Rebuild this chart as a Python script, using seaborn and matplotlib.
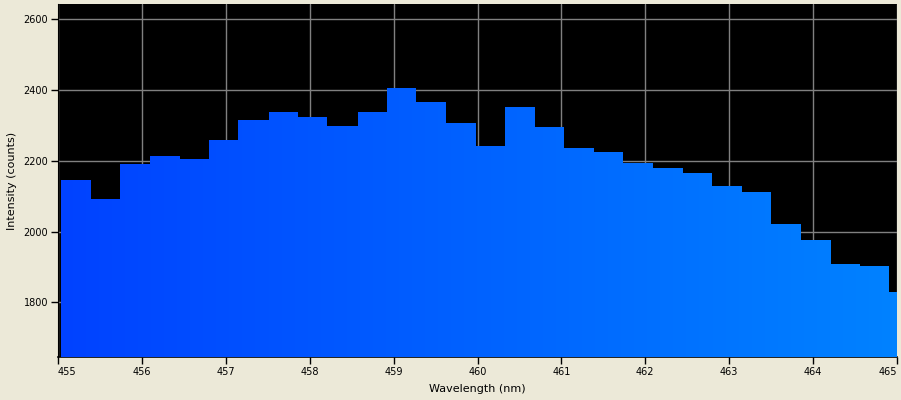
import numpy as np
import matplotlib
matplotlib.use("Agg")
import matplotlib.pyplot as plt
from matplotlib.colors import LinearSegmentedColormap
from matplotlib.patches import PathPatch
import seaborn as sns

# Bin left edges (nm) and intensities (counts)
wavelength = [455.04, 455.39, 455.74, 456.10, 456.45, 456.80, 457.15, 457.51,
              457.86, 458.21, 458.57, 458.92, 459.27, 459.62, 459.98, 460.33,
              460.68, 461.03, 461.39, 461.74, 462.09, 462.45, 462.80, 463.15,
              463.50, 463.86, 464.21, 464.56, 464.91]
last_edge = 465.27
intensity = [2146, 2092, 2191, 2214, 2205, 2259, 2316, 2339,
             2324, 2299, 2339, 2406, 2367, 2307, 2242, 2353,
             2296, 2236, 2225, 2194, 2180, 2166, 2129, 2112,
             2021, 1976, 1908, 1902, 1829]
x_ticks = [455, 456, 457, 458, 459, 460, 461, 462, 463, 464, 465]
y_ticks = [1800, 2000, 2200, 2400, 2600]

BG = "#ECE9D8"
sns.set_style("dark")
plt.rcParams["font.family"] = ["DejaVu Sans"]

fig = plt.figure(figsize=(9.01, 4.0), dpi=100, facecolor=BG)
ax = fig.add_axes([58 / 901, 43 / 400, 839 / 901, 353 / 400])
ax.set_facecolor("black")

bins = wavelength + [last_edge]
sns.histplot(x=wavelength, weights=intensity, bins=bins, element="step",
             fill=True, color="#0050ff", alpha=1, linewidth=0, ax=ax, zorder=2)

ax.set_xlim(455, 465)
ax.set_ylim(1646, 2643)

# gradient fill clipped to the step polygon
poly = ax.collections[0]
path = poly.get_paths()[0]
cmap = LinearSegmentedColormap.from_list("blu", ["#0042ff", "#0082ff"])
grad = np.linspace(0, 1, 256).reshape(1, -1)
im = ax.imshow(grad, cmap=cmap, aspect="auto", extent=(455, 465, 1646, 2643),
               origin="lower", zorder=3, interpolation="bilinear")
clip = PathPatch(path, transform=ax.transData, facecolor="none", edgecolor="none")
ax.add_patch(clip)
im.set_clip_path(clip)
ax.set_xlim(455, 465)
ax.set_ylim(1646, 2643)

ax.set_xticks(x_ticks)
ax.set_yticks(y_ticks)
ax.set_xticklabels([str(t) for t in x_ticks])
ax.set_yticklabels([str(t) for t in y_ticks])
ax.grid(True, color="#808080", linewidth=1, zorder=1)
ax.set_axisbelow(True)
ax.tick_params(axis="both", which="both", direction="out", length=5, width=1,
               color="black", labelsize=7, labelcolor="black", pad=2,
               bottom=True, left=True)
xlabels = ax.get_xticklabels()
xlabels[0].set_horizontalalignment("left")
xlabels[-1].set_horizontalalignment("right")

for side in ["top", "right"]:
    ax.spines[side].set_visible(False)
ax.spines["left"].set_visible(True)
ax.spines["left"].set_color("black")
ax.spines["bottom"].set_visible(True)
ax.spines["bottom"].set_color("black")
ax.spines["bottom"].set_linewidth(1.2)

ax.set_xlabel("Wavelength (nm)", fontsize=8, color="black", labelpad=5)
ax.set_ylabel("Intensity (counts)", fontsize=8, color="black", labelpad=5)

fig.savefig("out.png", dpi=100, facecolor=BG)
